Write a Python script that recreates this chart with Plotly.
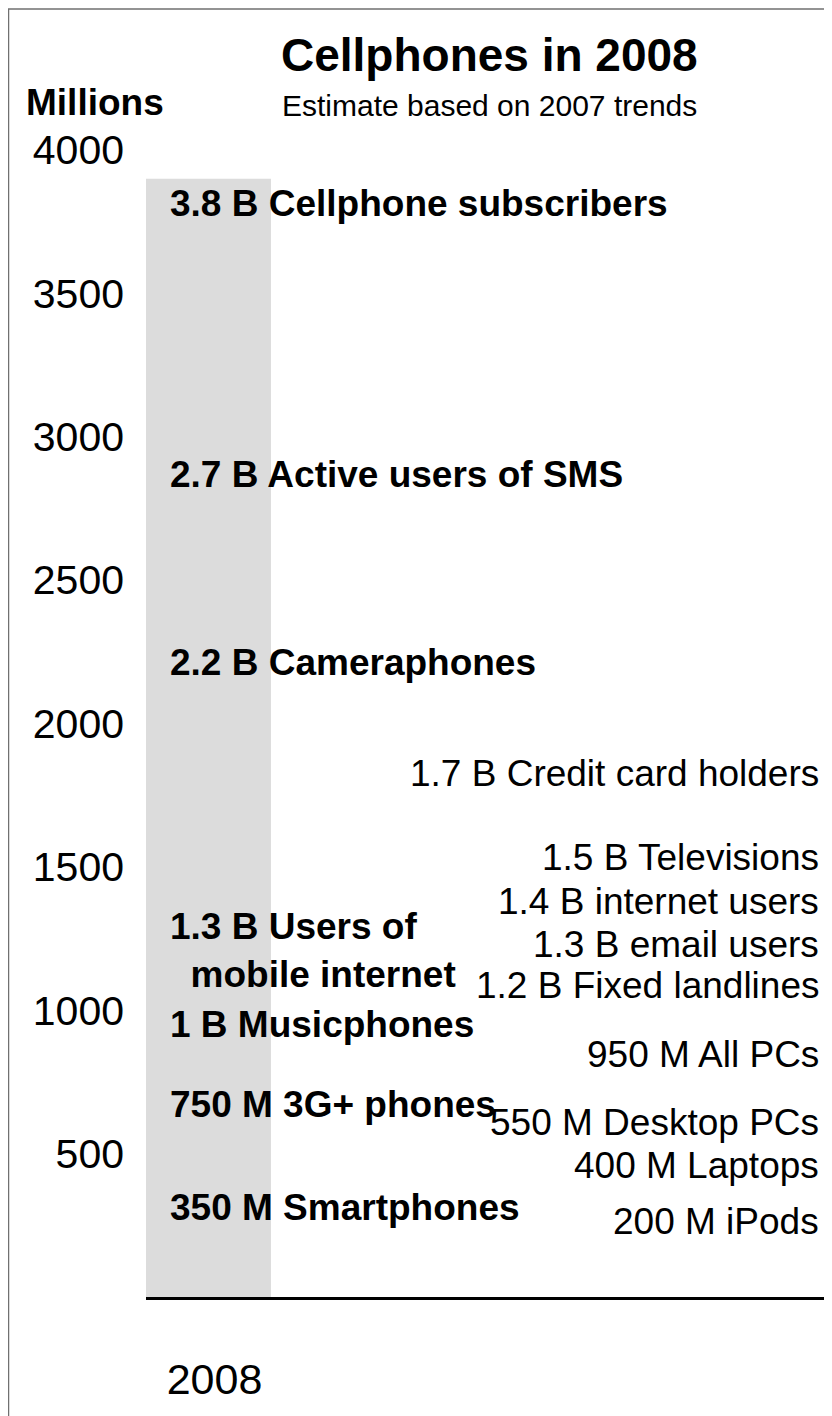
import plotly.graph_objects as go

FONT = "Liberation Sans, Arial, sans-serif"
INK = "#000000"
BAR_GRAY = "#dcdcdc"
FRAME = "#707070"

# data (millions)
years = ["2008"]
subscribers = [3900]

left_values = [3800, 2700, 2200, 1300, 1000, 750, 350]
left_names = ["Cellphone subscribers", "Active users of SMS", "Cameraphones",
              "Users of<br>&nbsp;&nbsp;mobile internet", "Musicphones", "3G+ phones", "Smartphones"]
left_label_y = [3812, 2870, 2214, 1210, 949, 670, 311]

right_values = [1700, 1500, 1400, 1300, 1200, 950, 550, 400, 200]
right_names = ["Credit card holders", "Televisions", "internet users", "email users",
               "Fixed landlines", "All PCs", "Desktop PCs", "Laptops", "iPods"]
right_label_y = [1827, 1531, 1378, 1231, 1085, 844, 610, 460, 262]

y_ticks = [500, 1000, 1500, 2000, 2500, 3000, 3500, 4000]


def fmt(v):
    return f"{v / 1000:g} B" if v >= 1000 else f"{v} M"


fig = go.Figure()
fig.add_trace(go.Bar(
    x=years, y=subscribers, width=1,
    marker_color=BAR_GRAY, marker_line_width=0, hoverinfo="skip",
))

annotations = []
for v, name, ly in zip(left_values, left_names, left_label_y):
    annotations.append(dict(
        x=0.032, xref="paper", y=ly, yref="y", xanchor="left", yanchor="middle",
        text=f"<b>{fmt(v)} {name}</b>", showarrow=False, align="left",
        font=dict(size=37, color=INK, family=FONT),
    ))
for v, name, ly in zip(right_values, right_names, right_label_y):
    annotations.append(dict(
        x=0.984, xref="paper", y=ly, yref="y", xanchor="right", yanchor="middle",
        text=f"{fmt(v)} {name}", showarrow=False, align="right",
        font=dict(size=37, color=INK, family=FONT),
    ))

annotations += [
    dict(x=0.5, y=1.083, xref="paper", yref="paper", xanchor="center", yanchor="middle",
         text="<b>Cellphones in 2008</b>", showarrow=False,
         font=dict(size=46, color=INK, family=FONT)),
    dict(x=0.5, y=1.039, xref="paper", yref="paper", xanchor="center", yanchor="middle",
         text="Estimate based on 2007 trends", showarrow=False,
         font=dict(size=30, color=INK, family=FONT)),
    dict(x=-0.074, y=1.041, xref="paper", yref="paper", xanchor="center", yanchor="middle",
         text="<b>Millions</b>", showarrow=False,
         font=dict(size=37, color=INK, family=FONT)),
]

fig.update_layout(
    width=824, height=1408,
    margin=dict(l=138, r=0, t=142, b=119),
    paper_bgcolor="white", plot_bgcolor="white",
    showlegend=False,
    font=dict(family=FONT, color=INK),
    annotations=annotations,
    xaxis=dict(
        type="category", range=[-0.5, 4.99], showgrid=False, zeroline=False,
        showline=True, linecolor=INK, linewidth=3, ticks="",
        tickfont=dict(size=43, color=INK, family=FONT), ticklabelstandoff=42,
        ticklabelshift=6, fixedrange=True,
    ),
    yaxis=dict(
        range=[0, 4000], tickvals=y_ticks, showgrid=False, zeroline=False,
        showline=False, ticks="", ticklabelstandoff=21,
        tickfont=dict(size=41, color=INK, family=FONT),
        fixedrange=True,
    ),
    shapes=[dict(
        type="rect", xref="paper", yref="paper",
        xsizemode="pixel", ysizemode="pixel", xanchor=0, yanchor=1,
        x0=-137.5, x1=900, y0=141, y1=-1500,
        line=dict(color=FRAME, width=1.5), fillcolor="rgba(0,0,0,0)", layer="below",
    )],
)

fig.write_html("out.html")
